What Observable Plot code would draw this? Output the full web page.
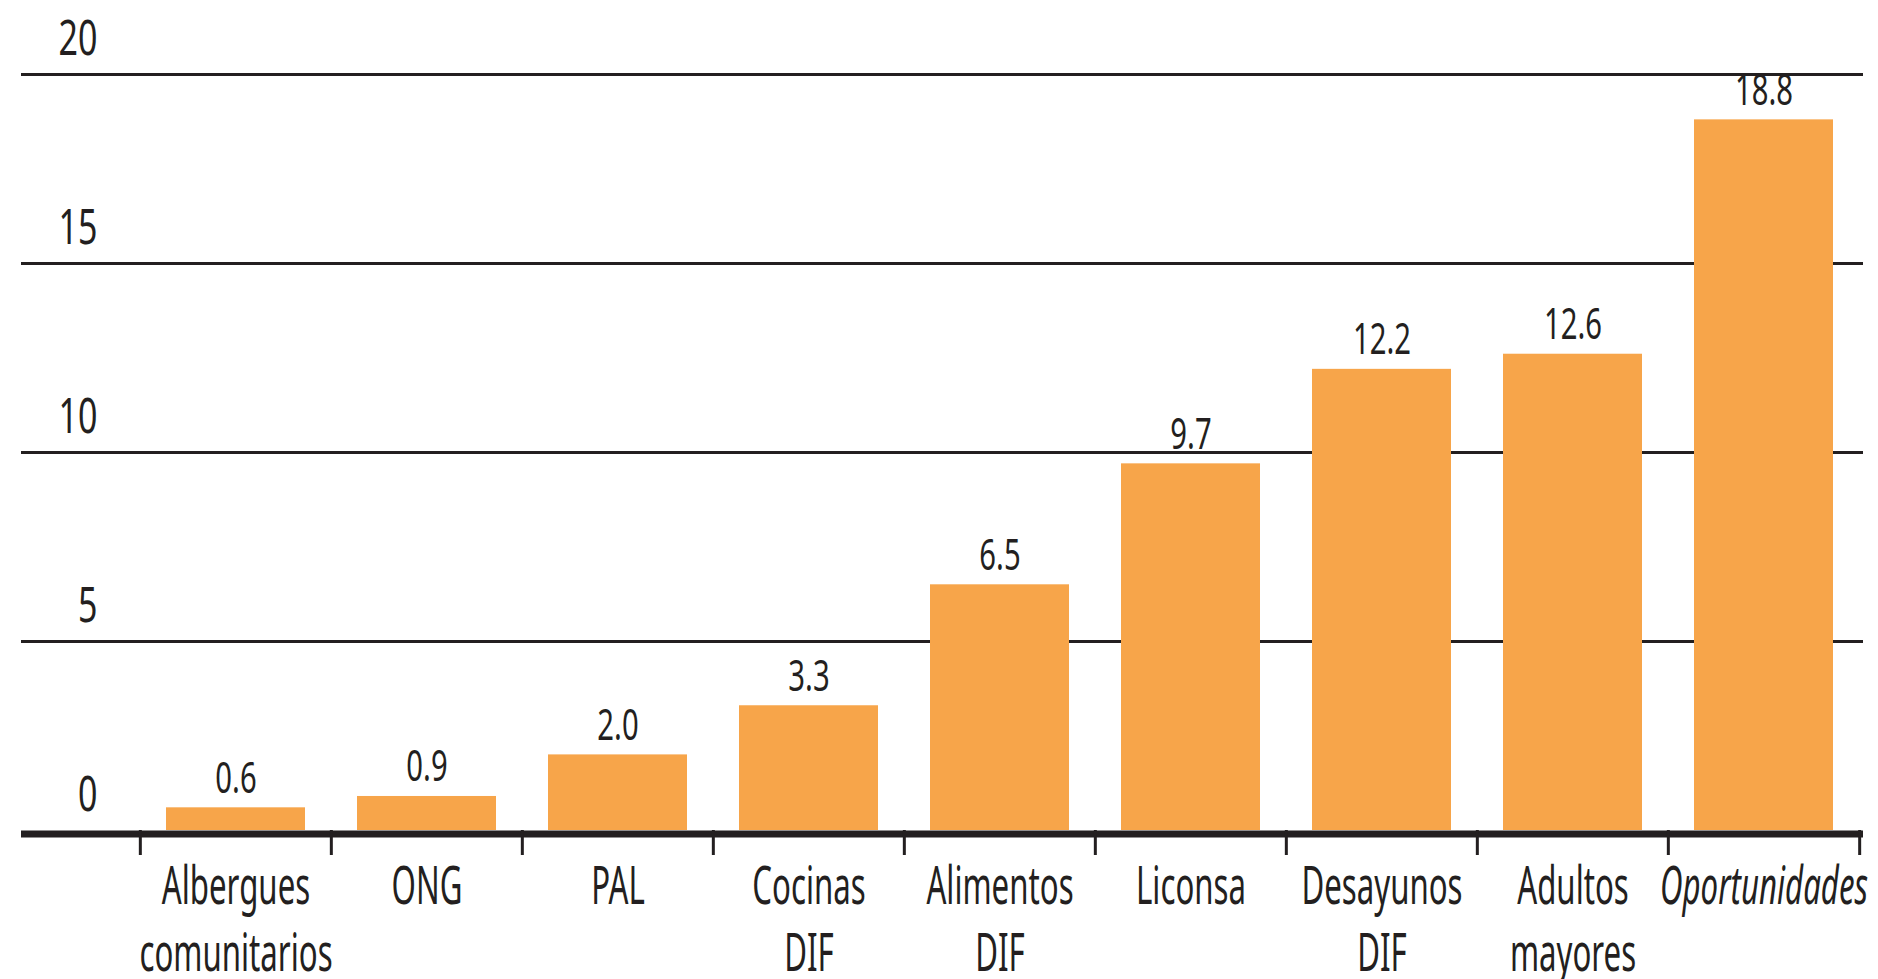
<!DOCTYPE html>
<html>
<head>
<meta charset="utf-8">
<script src="https://cdn.jsdelivr.net/npm/d3@7"></script>
<script src="https://cdn.jsdelivr.net/npm/@observablehq/plot@0.6"></script>
<style>
  html, body { margin: 0; padding: 0; background: #fff; }
  #chart svg { display: block; }
</style>
</head>
<body>
<div id="chart"></div>
<script>
// Data
const categories = ["Albergues\ncomunitarios", "ONG", "PAL", "Cocinas\nDIF", "Alimentos\nDIF", "Liconsa", "Desayunos\nDIF", "Adultos\nmayores", "Oportunidades"];
const values = [0.6, 0.9, 2.0, 3.3, 6.5, 9.7, 12.2, 12.6, 18.8];
const valueLabels = ["0.6", "0.9", "2.0", "3.3", "6.5", "9.7", "12.2", "12.6", "18.8"];
const yTicks = [0, 5, 10, 15, 20];
const gridTicks = [5, 10, 15, 20];
const italicCategories = ["Oportunidades"];

const rows = categories.map((c, i) => ({cat: c, value: values[i], label: valueLabels[i]}));

const FONT = "'Noto Sans', 'Open Sans', sans-serif";
const INK = "#231f20";
const ORANGE = "#f7a54a";

const W = 1878, H = 979;
const xRange = [139, 1861];
const halfStep = (xRange[1] - xRange[0]) / categories.length / 2;

const chart = Plot.plot({
  width: W,
  height: H,
  marginLeft: 21,
  marginRight: 15,
  marginTop: 74,
  marginBottom: 149,
  style: {fontFamily: FONT, color: INK, background: "#fff"},
  x: {domain: categories, range: xRange, paddingInner: 0.27, paddingOuter: 0.135, axis: null},
  y: {domain: [0, 20], axis: null},
  marks: [
    Plot.ruleY(gridTicks, {stroke: INK, strokeWidth: 3}),
    Plot.barY(rows, {x: "cat", y: "value", fill: ORANGE}),
    Plot.ruleY([0], {stroke: INK, strokeWidth: 7, dy: 3.5}),
    // band-edge ticks
    Plot.ruleX(categories, {x: d => d, y1: 0, y2: 0, dx: -halfStep, insetBottom: -25, stroke: INK, strokeWidth: 3}),
    Plot.ruleX(categories.slice(-1), {x: d => d, y1: 0, y2: 0, dx: halfStep, insetBottom: -25, stroke: INK, strokeWidth: 3}),
    // y tick labels
    Plot.text(yTicks, {y: d => d, text: d => String(d), frameAnchor: "left", textAnchor: "end", lineAnchor: "bottom", dx: 76, dy: -20, fontSize: 50, fill: INK}),
    // value labels
    Plot.text(rows, {x: "cat", y: "value", text: "label", lineAnchor: "bottom", dy: -15, fontSize: 43, fill: INK}),
    // category labels
    Plot.text(rows.filter(d => !italicCategories.includes(d.cat)), {x: "cat", text: "cat", frameAnchor: "bottom", lineAnchor: "top", lineHeight: 1.29, dy: 26, fontSize: 52, fill: INK}),
    Plot.text(rows.filter(d => italicCategories.includes(d.cat)), {x: "cat", text: "cat", frameAnchor: "bottom", lineAnchor: "top", lineHeight: 1.29, dy: 26, fontSize: 52, fontStyle: "italic", fill: INK})
  ]
});

// Condense the text horizontally to mimic the original condensed typeface
const textScales = [0.68, 0.68, 0.6, 0.6];
chart.querySelectorAll('g[aria-label="text"]').forEach((g, gi) => {
  const s = textScales[gi] ?? 0.7;
  g.querySelectorAll("text").forEach(t => {
    const tr = t.getAttribute("transform") || "";
    t.setAttribute("transform", `${tr} scale(${s},1)`);
  });
});

document.getElementById("chart").appendChild(chart);
</script>
</body>
</html>
